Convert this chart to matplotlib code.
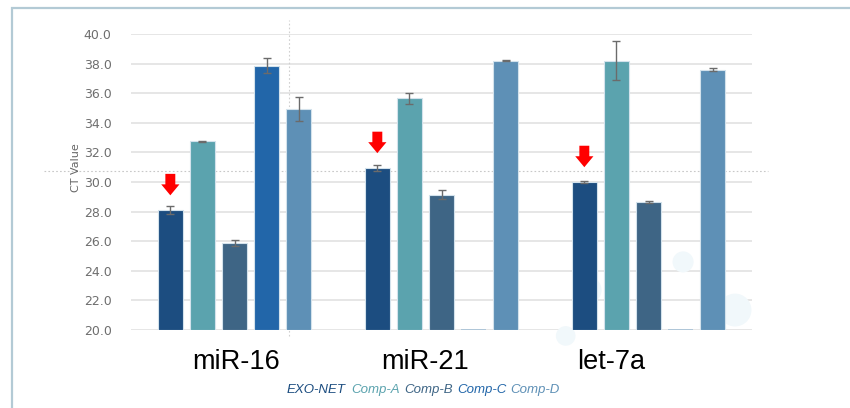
# -*- coding: utf-8 -*-
"""CT values per miRNA, EXO-NET vs competitor kits
"""
import matplotlib.pyplot as plt
import numpy as np
from matplotlib.patches import Rectangle, FancyArrow

# data
categories = ['miR-16', 'miR-21', 'let-7a']
series = ['EXO-NET', 'Comp-A', 'Comp-B', 'Comp-C', 'Comp-D']
exo_net = [28.1, 30.95, 30.0]
comp_a = [32.75, 35.65, 38.2]
comp_b = [25.85, 29.15, 28.65]
comp_c = [37.85, 20.0, 20.0]
comp_d = [34.95, 38.2, 37.6]
exo_net_err = [0.25, 0.2, 0.1]
comp_a_err = [0.05, 0.35, 1.3]
comp_b_err = [0.2, 0.3, 0.1]
comp_c_err = [0.5, 0.0, 0.0]
comp_d_err = [0.8, 0.05, 0.1]
y_ticks = [20.0, 22.0, 24.0, 26.0, 28.0, 30.0, 32.0, 34.0, 36.0, 38.0, 40.0]

values = [exo_net, comp_a, comp_b, comp_c, comp_d]
errors = [exo_net_err, comp_a_err, comp_b_err, comp_c_err, comp_d_err]
colors = ['#1c4d80', '#5ba3ae', '#3e6585', '#2266a9', '#5e90b6']
base = 20.0

# make figure
fig = plt.figure(figsize=(8.5, 4.08), dpi=100)
fig.patches.append(Rectangle((12 / 850, -0.1), 1.2, (408 - 8) / 408 + 0.1,
                             transform=fig.transFigure, fill=False,
                             edgecolor='#b3cad5', linewidth=1.6, zorder=0))

ax = fig.add_axes([131 / 850, 78 / 408, 621 / 850, 296 / 408])
ax.patch.set_alpha(0)

# faint background bubbles (behind the bars)
ax.scatter([2.167, 2.418, 1.708, 1.60], [24.6, 21.35, 22.7, 19.6],
           s=[230, 560, 380, 200], color='#f1f8fb', linewidth=0, zorder=1,
           clip_on=False)

x = np.arange(len(categories))
step, width = 0.155, 0.12
for k, (vals, errs, c) in enumerate(zip(values, errors, colors)):
    xs = x + (k - 2) * step
    v = np.array(vals)
    h = v - base
    p = h > 0
    ax.bar(xs[p], h[p], width, bottom=base, color=c, edgecolor='#d3e2ec',
           linewidth=0.8, label=series[k], zorder=3)
    # zero-height bars show as a thin light line on the baseline
    if (~p).any():
        ax.hlines(v[~p], xs[~p] - width / 2, xs[~p] + width / 2,
                  color='#a4c0d6', linewidth=1.2, zorder=3)
    e = np.array(errs)
    m = e > 0
    ax.errorbar(xs[m], v[m], yerr=e[m], fmt='none', ecolor='#6b6b6b',
                elinewidth=1.0, capsize=3, capthick=1.0, zorder=4, clip_on=False)

# red arrows above EXO-NET bars
for xi, v in zip(x - 2 * step, exo_net):
    ax.add_patch(FancyArrow(xi, v + 2.45, 0, -1.45, width=0.048, head_width=0.088,
                            head_length=0.74, length_includes_head=True,
                            color='#ff0000', linewidth=0, zorder=5))

# hover crosshair
ax.axhline(30.74, xmin=-0.14, xmax=1.025, color='#c8c8c8', linestyle=(0, (1.5, 2)),
           linewidth=0.8, clip_on=False, zorder=1)
ax.axvline(0.263, ymin=-0.02, ymax=1.047, color='#d0d0d0', linestyle=(0, (1.5, 2)),
           linewidth=0.8, clip_on=False, zorder=1)

ax.set_xlim(-0.5, 2.5)
ax.set_ylim(20, 40)
ax.set_yticks(y_ticks)
ax.set_yticklabels([f'{t:.1f}' for t in y_ticks], color='#6e6e6e', fontsize=9)
# category labels sit slightly left of the group centres, as in the source
ax.set_xticks([0.007, 0.92, 1.82])
ax.set_xticklabels(categories, fontsize=19.5, family='Liberation Sans')
ax.tick_params(axis='both', length=0)
ax.tick_params(axis='y', pad=14)
ax.tick_params(axis='x', pad=14)
ax.grid(axis='y', color='#e2e2e2', linewidth=1.2, zorder=0)
for s in ax.spines.values():
    s.set_visible(False)
ax.set_axisbelow(True)

fig.text(76 / 850, (408 - 168) / 408, 'CT Value', rotation=90, ha='center',
         va='center', fontsize=8, color='#666666')

# legend as coloured italic words
leg_x = [287, 351, 404, 457, 510]
for name, c, lx in zip(series, colors, leg_x):
    fig.text(lx / 850, (408 - 390) / 408, name, color=c, style='italic',
             family='Liberation Sans', fontsize=9.5, ha='left', va='center')

fig.savefig('out.png', dpi=100)
